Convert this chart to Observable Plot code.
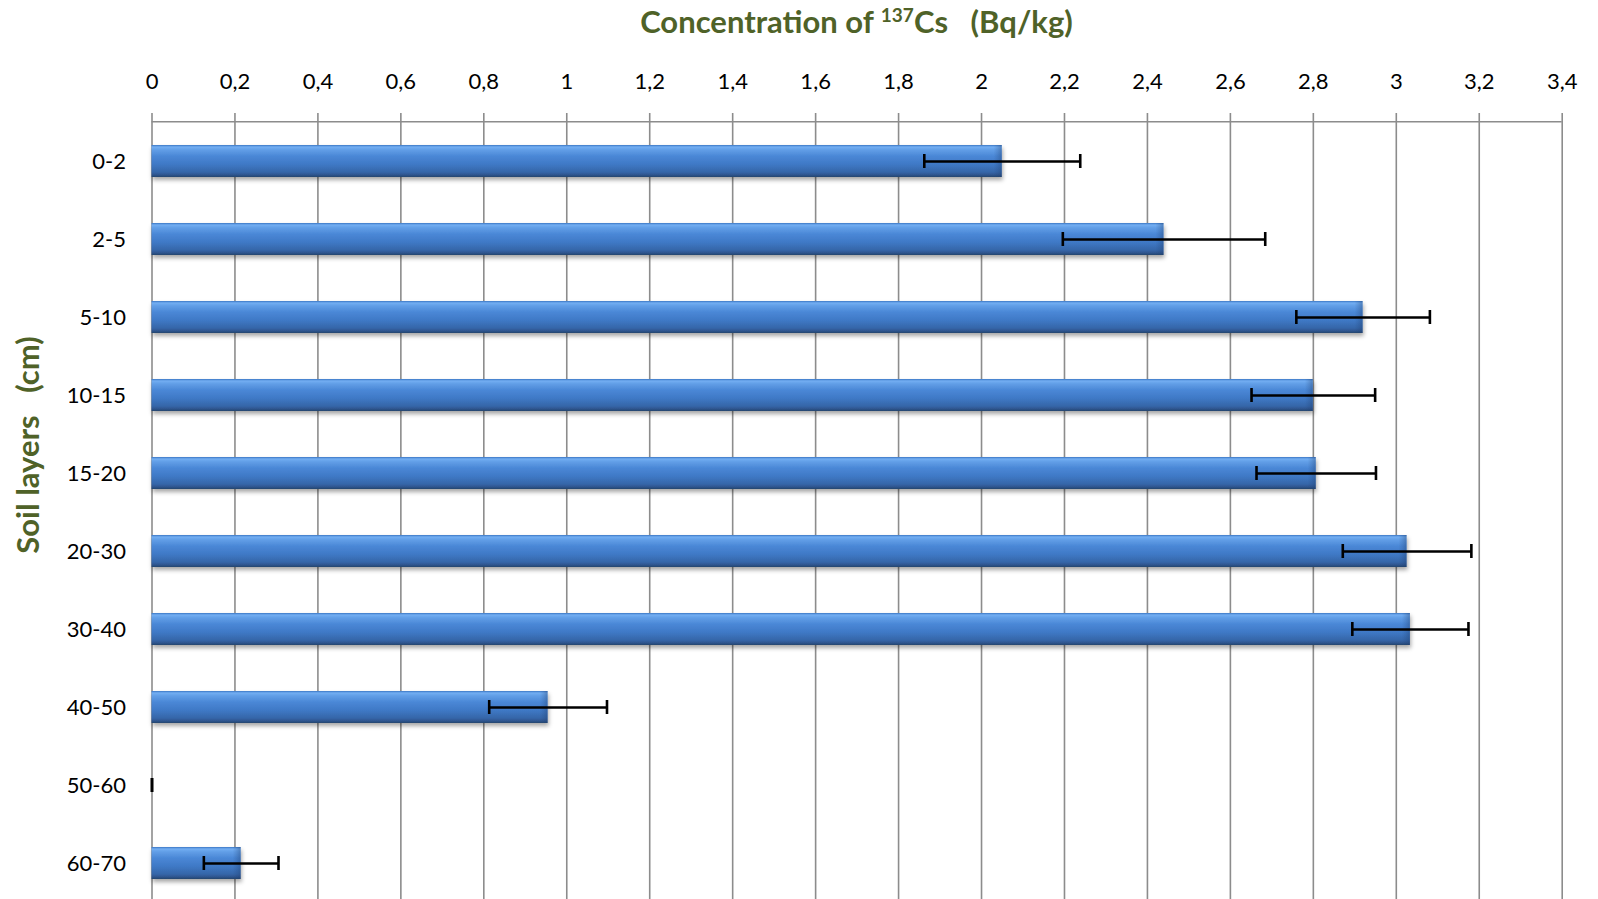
<!DOCTYPE html>
<html>
<head>
<meta charset="utf-8">
<script src="https://cdn.jsdelivr.net/npm/d3@7"></script>
<script src="https://cdn.jsdelivr.net/npm/@observablehq/plot@0.6"></script>
<style>
  html, body { margin: 0; padding: 0; background: #fff; overflow: hidden; }
  #wrap { position: relative; width: 1598px; height: 899px; font-family: Lato, "Open Sans", sans-serif; }
  #title { position: absolute; left: 151.5px; width: 1410px; top: 2px; text-align: center;
           font-weight: 700; font-size: 31px; color: #4f6228; white-space: pre; }
  #title sup { font-size: 19px; vertical-align: 11px; line-height: 0; }
  #ylab { position: absolute; left: 27px; top: 445px; transform: translate(-50%, -50%) rotate(-90deg);
          font-weight: 700; font-size: 31px; color: #4f6228; white-space: pre; }
  #chart { position: absolute; left: 0; top: 0; }
</style>
</head>
<body>
<div id="wrap">
  <div id="chart"></div>
  <div id="title">Concentration of <sup>137</sup>Cs   (Bq/kg)</div>
  <div id="ylab">Soil layers   (cm)</div>
</div>
<script>
const layers = ["0-2", "2-5", "5-10", "10-15", "15-20", "20-30", "30-40", "40-50", "50-60", "60-70"];
const concentration = [2.05, 2.44, 2.92, 2.80, 2.807, 3.026, 3.034, 0.955, 0, 0.215];
const errors = [0.188, 0.244, 0.161, 0.149, 0.144, 0.155, 0.14, 0.142, 0, 0.09];
const xTicks = [0, 0.2, 0.4, 0.6, 0.8, 1, 1.2, 1.4, 1.6, 1.8, 2, 2.2, 2.4, 2.6, 2.8, 3, 3.2, 3.4];

const data = layers.map((l, i) => ({layer: l, value: concentration[i], err: errors[i]}));

const plot = Plot.plot({
  width: 1598,
  height: 899,
  marginLeft: 151.5,
  marginRight: 36.3,
  marginTop: 121.7,
  marginBottom: 0,
  style: {fontFamily: "Lato, 'Open Sans', sans-serif", fontSize: "22px", color: "#000", background: "#fff"},
  x: {domain: [0, 3.4], axis: null},
  y: {domain: layers, range: [121.7, 903], paddingInner: 0.59, paddingOuter: 0.295, axis: null},
  marks: [
    Plot.ruleX(xTicks, {x: d => d, insetTop: -8.7, stroke: "#8c8c8c", strokeWidth: 1.6, strokeOpacity: 1}),
    Plot.text(xTicks, {x: d => d, text: d => String(d).replace(".", ","), frameAnchor: "top", dy: -49, fontSize: 22, fill: "#000"}),
    Plot.axisY({tickSize: 0, tickPadding: 26, fontSize: 22, label: null}),
    Plot.barX(data, {y: "layer", x: "value", fill: "url(#barGrad)", filter: d => d.value > 0, className: "bars"}),
    Plot.barX(data, {y: "layer", x1: "value", x2: "value", insetLeft: -8, fill: "url(#bevelGrad)", filter: d => d.value > 0.05}),
    Plot.ruleY(data, {y: "layer", x1: d => d.value - d.err, x2: d => d.value + d.err, stroke: "#000", strokeWidth: 2.6}),
    Plot.tickX(data, {y: "layer", x: d => d.value - d.err, stroke: "#000", strokeWidth: 2.6, insetTop: 9, insetBottom: 9}),
    Plot.tickX(data, {y: "layer", x: d => d.value + d.err, stroke: "#000", strokeWidth: 2.6, insetTop: 9, insetBottom: 9})
  ]
});

const svg = d3.select(plot);
const xs = plot.scale("x"), ys = plot.scale("y");
// top axis line (the frame's top edge)
svg.append("line")
  .attr("x1", xs.apply(xs.domain[0])).attr("x2", xs.apply(xs.domain[1]))
  .attr("y1", ys.range[0]).attr("y2", ys.range[0])
  .attr("stroke", "#8c8c8c").attr("stroke-width", 1.6);

const defs = svg.insert("defs", ":first-child");
const g = defs.append("linearGradient").attr("id", "barGrad").attr("x1", 0).attr("y1", 0).attr("x2", 0).attr("y2", 1);
[[0, "#3b76c4"], [0.06, "#72aef2"], [0.16, "#609de6"], [0.35, "#4a87d6"], [0.6, "#3f79c6"], [0.85, "#3565a8"], [0.94, "#2e548c"], [1, "#26446c"]]
  .forEach(([o, c]) => g.append("stop").attr("offset", o).attr("stop-color", c));
const bg = defs.append("linearGradient").attr("id", "bevelGrad").attr("x1", 0).attr("y1", 0).attr("x2", 1).attr("y2", 0);
[[0, "#1f3f70", 0], [0.5, "#1f3f70", 0.18], [1, "#1f3f70", 0.4]]
  .forEach(([o, c, a]) => bg.append("stop").attr("offset", o).attr("stop-color", c).attr("stop-opacity", a));
const f = defs.append("filter").attr("id", "shadow").attr("x", "-5%").attr("y", "-30%").attr("width", "110%").attr("height", "180%");
f.append("feDropShadow").attr("dx", 1).attr("dy", 3).attr("stdDeviation", 2.2).attr("flood-color", "#000").attr("flood-opacity", 0.35);
svg.selectAll("g.bars").attr("filter", "url(#shadow)");

document.getElementById("chart").appendChild(plot);
</script>
</body>
</html>
